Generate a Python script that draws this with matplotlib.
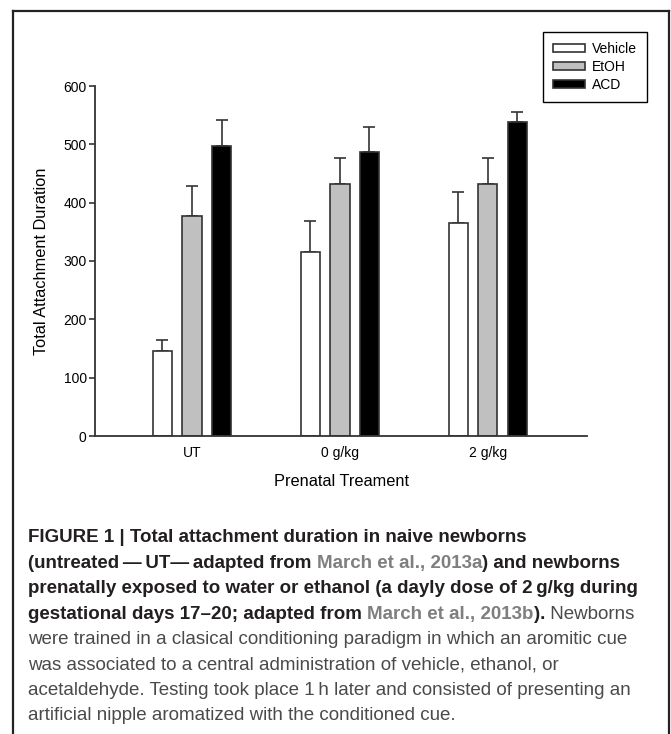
import numpy as np
import matplotlib
matplotlib.use("Agg")
import matplotlib.pyplot as plt
from matplotlib.lines import Line2D

# data
groups = ["UT", "0 g/kg", "2 g/kg"]
series = ["Vehicle", "EtOH", "ACD"]
vehicle = [145, 316, 366]
etoh = [378, 432, 432]
acd = [497, 487, 538]
vehicle_err = [20, 53, 53]
etoh_err = [51, 44, 44]
acd_err = [44, 42, 17]
yticks = [0, 100, 200, 300, 400, 500, 600]

caption = [
    [("b", "FIGURE 1 | Total attachment duration in naive newborns")],
    [("b", "(untreated\u2009\u2014\u2009UT\u2014\u2009adapted from "), ("l", "March et al., 2013a"),
     ("b", ") and newborns")],
    [("b", "prenatally exposed to water or ethanol (a dayly dose of 2\u2009g/kg during")],
    [("b", "gestational days 17\u201320; adapted from "), ("l", "March et al., 2013b"),
     ("b", ")."), ("r", " Newborns")],
    [("r", "were trained in a clasical conditioning paradigm in which an aromitic cue")],
    [("r", "was associated to a central administration of vehicle, ethanol, or")],
    [("r", "acetaldehyde. Testing took place 1\u2009h later and consisted of presenting an")],
    [("r", "artificial nipple aromatized with the conditioned cue.")],
]

plt.rcParams["font.family"] = ["Liberation Sans", "DejaVu Sans"]

W, H = 671, 734
fig = plt.figure(figsize=(W / 100, H / 100), dpi=100)
ax = fig.add_axes([95 / W, 1 - 436 / H, 492 / W, 350 / H])

x = np.arange(len(groups))
width = 0.13
offset = 0.2
edge = "#333333"
colors = ["white", "#c0c0c0", "black"]
values = [vehicle, etoh, acd]
errors = [vehicle_err, etoh_err, acd_err]
for i, (vals, errs, col, name) in enumerate(zip(values, errors, colors, series)):
    pos = x + (i - 1) * offset
    ax.bar(pos, vals, width, color=col, edgecolor=edge, linewidth=1.2, label=name, zorder=2)
    ax.errorbar(pos, vals, yerr=[np.zeros(len(errs)), errs], fmt="none",
                ecolor=edge, elinewidth=1.2, capsize=4, capthick=1.2, zorder=1)

ax.set_xlim(-0.655, 2.67)
ax.set_ylim(0, 600)
ax.set_yticks(yticks)
ax.set_xticks(x)
ax.set_xticklabels(groups)
for s in ["top", "right"]:
    ax.spines[s].set_visible(False)
for s in ["left", "bottom"]:
    ax.spines[s].set_color(edge)
    ax.spines[s].set_linewidth(1.3)
ax.tick_params(axis="y", length=4, width=1.2, color=edge, labelsize=10, pad=2)
ax.tick_params(axis="x", length=0, labelsize=10, pad=7)
ax.set_ylabel("Total Attachment Duration", fontsize=11.8, labelpad=10)
ax.set_xlabel("Prenatal Treament", fontsize=11.8, labelpad=10)

fig.legend(loc="upper right", bbox_to_anchor=(647 / W, 1 - 32 / H), fontsize=10,
           frameon=True, fancybox=False, edgecolor="black", framealpha=1,
           handlelength=2.3, handleheight=0.58, handletextpad=0.55, labelspacing=0.3,
           borderpad=0.7, borderaxespad=0)

# frame around the figure
frame_kw = dict(color="#222222", linewidth=1.6, transform=fig.transFigure)
fig.add_artist(Line2D([13 / W, 13 / W], [0, 1 - 11 / H], **frame_kw))
fig.add_artist(Line2D([13 / W, 669 / W], [1 - 11 / H, 1 - 11 / H], **frame_kw))
fig.add_artist(Line2D([669 / W, 669 / W], [0, 1 - 11 / H], **frame_kw))

# caption with mixed styles
styles = {
    "b": dict(fontweight="bold", color="#231f20"),
    "l": dict(fontweight="bold", color="#7f7f7f"),
    "r": dict(fontweight="normal", color="#4a4a4a"),
}
renderer = fig.canvas.get_renderer()
y0 = 538
for k, line in enumerate(caption):
    xpix = 28
    ypix = y0 + k * 25.4
    for style, txt in line:
        t = fig.text(xpix / W, 1 - ypix / H, txt, fontsize=13.5, va="center", ha="left",
                     **styles[style])
        bb = t.get_window_extent(renderer=renderer)
        xpix += bb.width

fig.savefig("out.png", dpi=100)
